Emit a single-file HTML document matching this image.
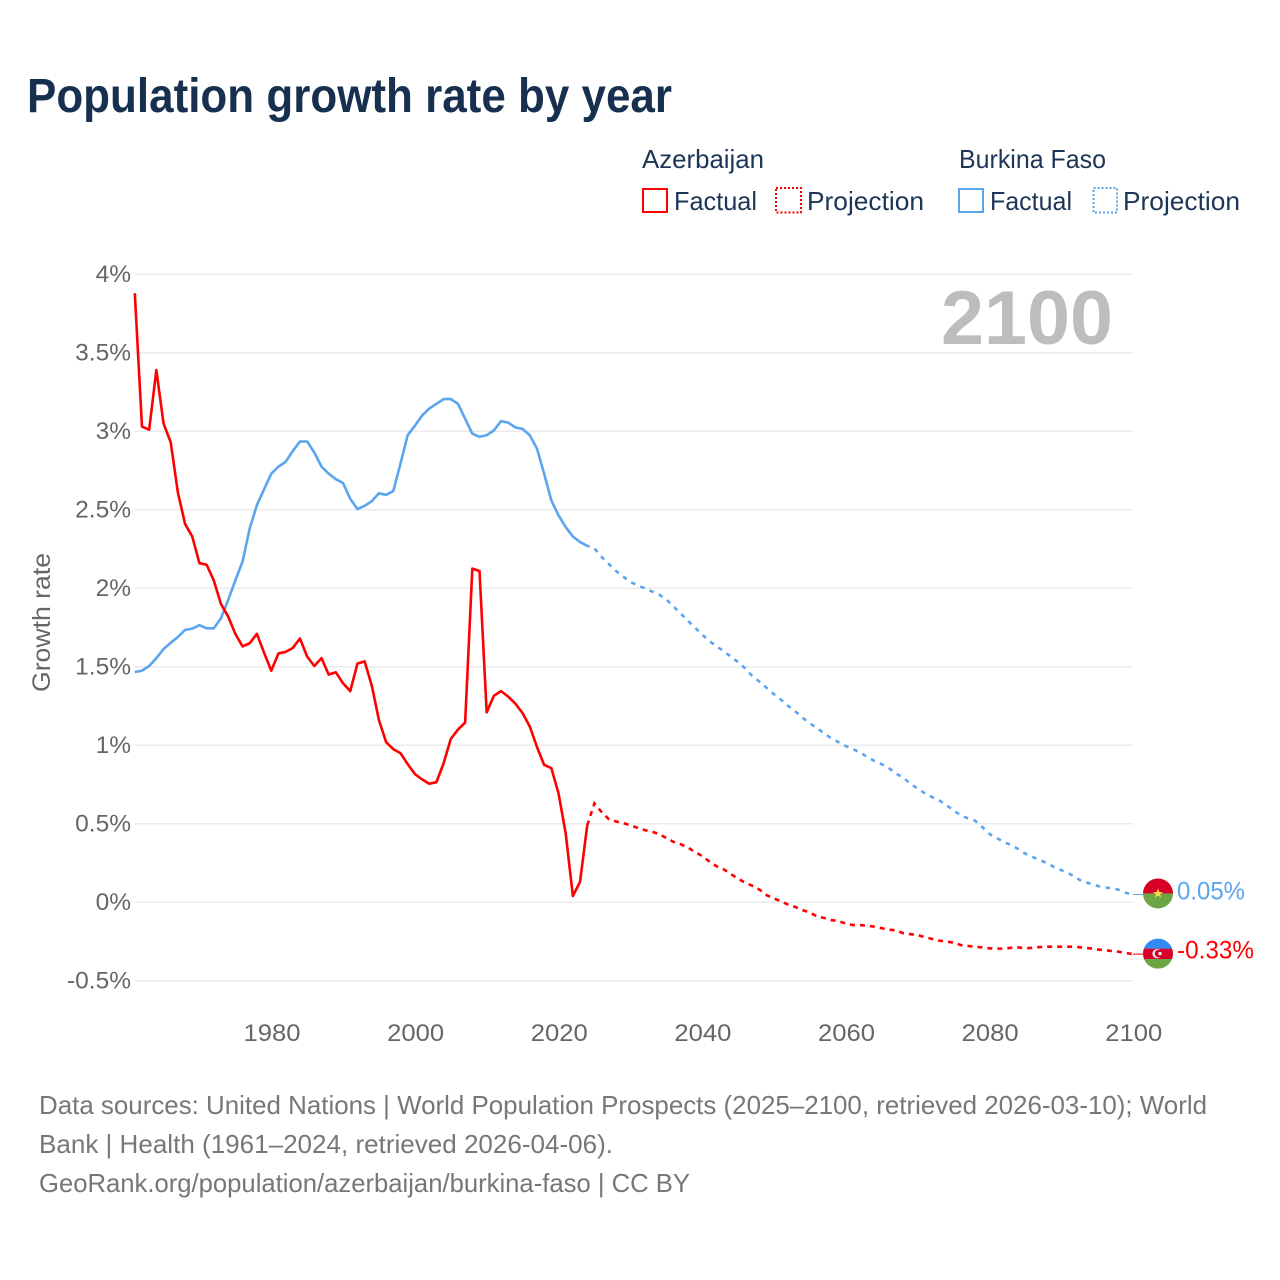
<!DOCTYPE html>
<html lang="en">
<head>
<meta charset="utf-8">
<title>Population growth rate by year</title>
<style>
html,body{margin:0;padding:0;background:#fff;width:1280px;height:1280px;overflow:hidden}
svg{display:block}
text{font-family:"Liberation Sans",sans-serif}
</style>
</head>
<body>
<svg id="chart" xmlns="http://www.w3.org/2000/svg" width="1280" height="1280" viewBox="0 0 1280 1280">
  <defs>
    <clipPath id="flag-clip"><circle cx="0" cy="0" r="15"></circle></clipPath>
  </defs>
  <rect x="0" y="0" width="1280" height="1280" fill="#ffffff"></rect>

  <text x="27" y="112" font-size="48" font-weight="700" fill="#17304f" textLength="645" lengthAdjust="spacingAndGlyphs">Population growth rate by year</text>

  <g font-size="26" fill="#1d3557">
    <text x="642" y="168" textLength="122" lengthAdjust="spacingAndGlyphs">Azerbaijan</text>
    <rect x="643" y="189" width="24" height="23" fill="none" stroke="#ff0000" stroke-width="2"></rect>
    <text x="674" y="210" textLength="83" lengthAdjust="spacingAndGlyphs">Factual</text>
    <rect x="776" y="188" width="25" height="24.5" fill="none" stroke="#ff0000" stroke-width="2" stroke-dasharray="2 2"></rect>
    <text x="807" y="210" textLength="117" lengthAdjust="spacingAndGlyphs">Projection</text>
    <text x="959" y="168" textLength="147" lengthAdjust="spacingAndGlyphs">Burkina Faso</text>
    <rect x="959" y="189" width="24" height="23" fill="none" stroke="#5ba4ee" stroke-width="2"></rect>
    <text x="990" y="210" textLength="82" lengthAdjust="spacingAndGlyphs">Factual</text>
    <rect x="1093.5" y="188" width="23.5" height="24.5" fill="none" stroke="#5ba4ee" stroke-width="2" stroke-dasharray="2 2"></rect>
    <text x="1123" y="210" textLength="117" lengthAdjust="spacingAndGlyphs">Projection</text>
  </g>

  <g id="grid"></g>
  <g id="y-ticks"></g>
  <g id="x-ticks"></g>
  <text transform="translate(50,692) rotate(-90)" x="0" y="0" font-size="25" fill="#666666" textLength="139" lengthAdjust="spacingAndGlyphs">Growth rate</text>
  <text id="year-label" x="1113" y="344" font-size="76" font-weight="700" fill="#bdbdbd" text-anchor="end" textLength="172" lengthAdjust="spacingAndGlyphs"></text>

  <g id="series"></g>

  <g id="flag-burkina" clip-path="url(#flag-clip)">
    <rect x="-16" y="-16" width="32" height="16" fill="#d80027"></rect>
    <rect x="-16" y="0" width="32" height="16" fill="#6da544"></rect>
    <polygon points="0,-5 1.4,-1.5 5,-1.5 2.1,0.7 3.2,4.2 0,2.1 -3.2,4.2 -2.1,0.7 -5,-1.5 -1.4,-1.5" fill="#ffda44"></polygon>
  </g>
  <g id="flag-azerbaijan" clip-path="url(#flag-clip)">
    <rect x="-16" y="-16" width="32" height="11" fill="#338af3"></rect>
    <rect x="-16" y="-5" width="32" height="10.4" fill="#d80027"></rect>
    <rect x="-16" y="5.4" width="32" height="11" fill="#6da544"></rect>
    <circle cx="-1" cy="0" r="4.6" fill="#f0f0f0"></circle>
    <circle cx="0.4" cy="0" r="3.7" fill="#d80027"></circle>
    <circle cx="2" cy="0" r="1.7" fill="#f0f0f0"></circle>
  </g>
  <text id="value-burkina" x="1177" font-size="25" fill="#5ba4ee" textLength="68" lengthAdjust="spacingAndGlyphs"></text>
  <text id="value-azerbaijan" x="1177" font-size="25" fill="#ff0000" textLength="77" lengthAdjust="spacingAndGlyphs"></text>

  <g font-size="26" fill="#777777">
    <text x="39" y="1114" textLength="1168" lengthAdjust="spacingAndGlyphs">Data sources: United Nations | World Population Prospects (2025–2100, retrieved 2026-03-10); World</text>
    <text x="39" y="1153" textLength="574" lengthAdjust="spacingAndGlyphs">Bank | Health (1961–2024, retrieved 2026-04-06).</text>
    <text x="39" y="1192" textLength="651" lengthAdjust="spacingAndGlyphs">GeoRank.org/population/azerbaijan/burkina-faso | CC BY</text>
  </g>
</svg>
<script>
const yTickValues = [4, 3.5, 3, 2.5, 2, 1.5, 1, 0.5, 0, -0.5];
const yTickLabels = ["4%", "3.5%", "3%", "2.5%", "2%", "1.5%", "1%", "0.5%", "0%", "-0.5%"];
const xTickYears = [1980, 2000, 2020, 2040, 2060, 2080, 2100];
const xTickLabels = ["1980", "2000", "2020", "2040", "2060", "2080", "2100"];
const firstYear = 1961;
const lastFactualYear = 2024;
const lastYear = 2100;

const azerbaijanFactual = [
  3.88, 3.03, 3.01, 3.39, 3.05, 2.93, 2.61, 2.41, 2.33,
  2.16, 2.15, 2.05, 1.90, 1.82, 1.71, 1.63, 1.65, 1.71, 1.59,
  1.475, 1.585, 1.595, 1.62, 1.68, 1.565, 1.505, 1.555, 1.45, 1.465,
  1.395, 1.345, 1.52, 1.535, 1.38, 1.16, 1.02, 0.975, 0.95, 0.88,
  0.817, 0.783, 0.755, 0.765, 0.885, 1.04, 1.10, 1.145, 2.125, 2.11,
  1.21, 1.315, 1.345, 1.31, 1.265, 1.205, 1.12, 0.99, 0.875, 0.855,
  0.695, 0.44, 0.04, 0.13, 0.49
];
const azerbaijanProjection = [
  0.63, 0.575, 0.53, 0.515, 0.505,
  0.49, 0.475, 0.46, 0.45, 0.435, 0.41, 0.385, 0.37, 0.35, 0.32,
  0.295, 0.26, 0.23, 0.21, 0.18, 0.15, 0.125, 0.105, 0.08, 0.045,
  0.025, 0.005, -0.015, -0.03, -0.05, -0.065, -0.09, -0.10, -0.113, -0.12,
  -0.135, -0.145, -0.145, -0.15, -0.155, -0.165, -0.175, -0.178, -0.197, -0.203,
  -0.208, -0.222, -0.233, -0.244, -0.25, -0.257, -0.272, -0.278, -0.283, -0.287,
  -0.293, -0.295, -0.295, -0.29, -0.287, -0.293, -0.29, -0.285, -0.283, -0.283,
  -0.283, -0.283, -0.283, -0.289, -0.293, -0.30, -0.305, -0.31, -0.315, -0.323,
  -0.33
];
const burkinaFactual = [
  1.467, 1.475, 1.505, 1.555, 1.613, 1.653, 1.69, 1.735, 1.743,
  1.765, 1.745, 1.745, 1.81, 1.925, 2.05, 2.17, 2.38, 2.53, 2.63,
  2.73, 2.775, 2.805, 2.875, 2.935, 2.935, 2.865, 2.775, 2.73, 2.695,
  2.67, 2.57, 2.505, 2.525, 2.555, 2.605, 2.595, 2.62, 2.795, 2.975,
  3.035, 3.10, 3.145, 3.175, 3.205, 3.205, 3.175, 3.08, 2.985, 2.965,
  2.975, 3.005, 3.065, 3.055, 3.025, 3.015, 2.975, 2.89, 2.73, 2.56,
  2.465, 2.39, 2.33, 2.295, 2.27
];
const burkinaProjection = [
  2.255, 2.20, 2.155, 2.11, 2.075,
  2.04, 2.02, 2.00, 1.98, 1.96, 1.93, 1.885, 1.84, 1.795, 1.75,
  1.705, 1.665, 1.63, 1.60, 1.565, 1.53, 1.49, 1.44, 1.405, 1.365,
  1.325, 1.29, 1.25, 1.215, 1.175, 1.14, 1.11, 1.075, 1.045, 1.02,
  0.995, 0.975, 0.955, 0.925, 0.90, 0.88, 0.855, 0.82, 0.795, 0.755,
  0.725, 0.695, 0.67, 0.65, 0.62, 0.585, 0.555, 0.535, 0.52, 0.48,
  0.435, 0.41, 0.385, 0.365, 0.34, 0.31, 0.29, 0.27, 0.25, 0.225,
  0.205, 0.185, 0.16, 0.13, 0.12, 0.105, 0.095, 0.09, 0.08, 0.06,
  0.05
];

const SVG_NS = "http://www.w3.org/2000/svg";
const plotLeft = 134.8;
const plotRight = 1133;
const yZero = 902.3;
const pxPerPercent = 157;

function xScale(year) {
  return plotLeft + (year - firstYear) * (plotRight - plotLeft) / (lastYear - firstYear);
}
function yScale(value) {
  return yZero - value * pxPerPercent;
}
function linePath(values, startYear) {
  return values.map(function (v, i) {
    return (i === 0 ? "M" : "L") + xScale(startYear + i).toFixed(2) + " " + yScale(v).toFixed(2);
  }).join(" ");
}
function formatPercent(v) {
  return (Math.round(v * 100) / 100) + "%";
}

const gridGroup = document.getElementById("grid");
const yTickGroup = document.getElementById("y-ticks");
yTickValues.forEach(function (value, i) {
  const gridLine = document.createElementNS(SVG_NS, "line");
  
  
  gridLine.setAttribute("x1", plotLeft);
  gridLine.setAttribute("x2", plotRight);
  gridLine.setAttribute("y1", yScale(value));
  gridLine.setAttribute("y2", yScale(value));
  gridLine.setAttribute("stroke", "#ebebeb");
  gridLine.setAttribute("stroke-width", "1.5");
  gridGroup.appendChild(gridLine);

  const tick = document.createElementNS(SVG_NS, "text");
  
  
  tick.setAttribute("x", 131);
  tick.setAttribute("y", yScale(value) + 7.5);
  tick.setAttribute("font-size", "24.5");
  tick.setAttribute("fill", "#666666");
  tick.setAttribute("text-anchor", "end");
  tick.textContent = yTickLabels[i];
  yTickGroup.appendChild(tick);
});

const xTickGroup = document.getElementById("x-ticks");
xTickYears.forEach(function (year, i) {
  const tick = document.createElementNS(SVG_NS, "text");
  
  
  tick.setAttribute("x", xScale(year) + 0.8);
  tick.setAttribute("y", 1041);
  tick.setAttribute("font-size", "24.5");
  tick.setAttribute("fill", "#666666");
  tick.setAttribute("text-anchor", "middle");
  tick.setAttribute("textLength", "57");
  tick.setAttribute("lengthAdjust", "spacingAndGlyphs");
  tick.textContent = xTickLabels[i];
  xTickGroup.appendChild(tick);
});

document.getElementById("year-label").textContent = String(lastYear);

const seriesGroup = document.getElementById("series");

const burkinaFactualLine = document.createElementNS(SVG_NS, "path");


burkinaFactualLine.setAttribute("d", linePath(burkinaFactual, firstYear));
burkinaFactualLine.setAttribute("fill", "none");
burkinaFactualLine.setAttribute("stroke", "#5ba4ee");
burkinaFactualLine.setAttribute("stroke-width", "2.6");
burkinaFactualLine.setAttribute("stroke-linejoin", "round");
seriesGroup.appendChild(burkinaFactualLine);

const burkinaProjectionLine = document.createElementNS(SVG_NS, "path");


burkinaProjectionLine.setAttribute("d", linePath([burkinaFactual[burkinaFactual.length - 1]].concat(burkinaProjection), lastFactualYear));
burkinaProjectionLine.setAttribute("fill", "none");
burkinaProjectionLine.setAttribute("stroke", "#5ba4ee");
burkinaProjectionLine.setAttribute("stroke-width", "2.6");
burkinaProjectionLine.setAttribute("stroke-dasharray", "4.5 5.5");
burkinaProjectionLine.setAttribute("stroke-dashoffset", "-8");
seriesGroup.appendChild(burkinaProjectionLine);

const azerbaijanFactualLine = document.createElementNS(SVG_NS, "path");


azerbaijanFactualLine.setAttribute("d", linePath(azerbaijanFactual, firstYear));
azerbaijanFactualLine.setAttribute("fill", "none");
azerbaijanFactualLine.setAttribute("stroke", "#ff0000");
azerbaijanFactualLine.setAttribute("stroke-width", "2.6");
azerbaijanFactualLine.setAttribute("stroke-linejoin", "round");
seriesGroup.appendChild(azerbaijanFactualLine);

const azerbaijanProjectionLine = document.createElementNS(SVG_NS, "path");


azerbaijanProjectionLine.setAttribute("d", linePath([azerbaijanFactual[azerbaijanFactual.length - 1]].concat(azerbaijanProjection), lastFactualYear));
azerbaijanProjectionLine.setAttribute("fill", "none");
azerbaijanProjectionLine.setAttribute("stroke", "#ff0000");
azerbaijanProjectionLine.setAttribute("stroke-width", "2.6");
azerbaijanProjectionLine.setAttribute("stroke-dasharray", "5 5");
seriesGroup.appendChild(azerbaijanProjectionLine);

const burkinaEnd = burkinaProjection[burkinaProjection.length - 1];
const azerbaijanEnd = azerbaijanProjection[azerbaijanProjection.length - 1];

const burkinaConnector = document.createElementNS(SVG_NS, "line");


burkinaConnector.setAttribute("x1", xScale(lastYear));
burkinaConnector.setAttribute("x2", 1143);
burkinaConnector.setAttribute("y1", yScale(burkinaEnd));
burkinaConnector.setAttribute("y2", yScale(burkinaEnd));
burkinaConnector.setAttribute("stroke", "#5ba4ee");
burkinaConnector.setAttribute("stroke-width", "1");
seriesGroup.appendChild(burkinaConnector);

const azerbaijanConnector = document.createElementNS(SVG_NS, "line");


azerbaijanConnector.setAttribute("x1", xScale(lastYear));
azerbaijanConnector.setAttribute("x2", 1143);
azerbaijanConnector.setAttribute("y1", yScale(azerbaijanEnd));
azerbaijanConnector.setAttribute("y2", yScale(azerbaijanEnd));
azerbaijanConnector.setAttribute("stroke", "#ff0000");
azerbaijanConnector.setAttribute("stroke-width", "1");
seriesGroup.appendChild(azerbaijanConnector);

document.getElementById("flag-burkina").setAttribute("transform", "translate(1158," + (yScale(burkinaEnd) - 1).toFixed(2) + ")");
document.getElementById("flag-azerbaijan").setAttribute("transform", "translate(1158," + (yScale(azerbaijanEnd) - 0.5).toFixed(2) + ")");

const burkinaValueLabel = document.getElementById("value-burkina");
burkinaValueLabel.setAttribute("y", yScale(burkinaEnd) + 5);
burkinaValueLabel.textContent = formatPercent(burkinaEnd);

const azerbaijanValueLabel = document.getElementById("value-azerbaijan");
azerbaijanValueLabel.setAttribute("y", yScale(azerbaijanEnd) + 4.5);
azerbaijanValueLabel.textContent = formatPercent(azerbaijanEnd);
</script>
</body>
</html>
